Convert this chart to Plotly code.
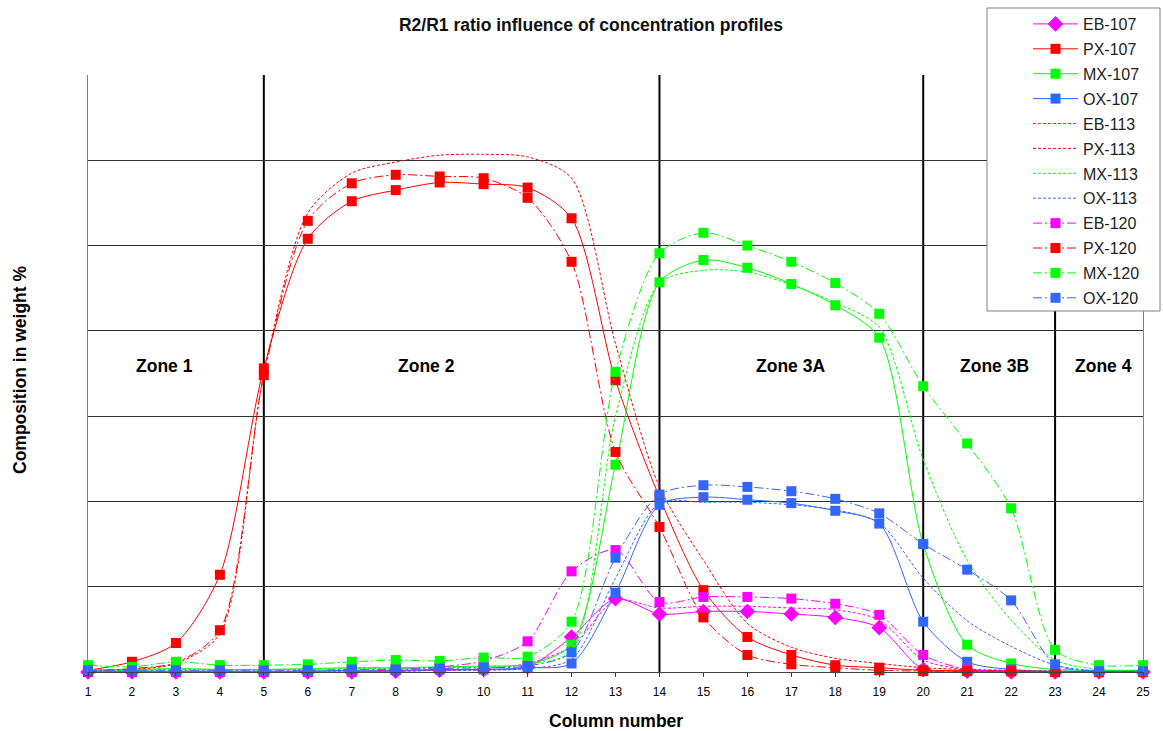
import plotly.graph_objects as go

columns = list(range(1, 26))
tick_labels = [str(c) for c in columns]

eb_107 = [0.0, 0.0, 0.0, 0.0, 0.0, 0.0, 0.0, 0.1, 0.2, 0.3, 0.6, 4.1, 8.6, 6.8, 7.1, 7.1, 6.8, 6.4, 5.2, 0.3, 0.1, 0.0, 0.0, 0.0, 0.0]
px_107 = [0.2, 1.2, 3.4, 11.4, 35.6, 50.8, 55.2, 56.5, 57.4, 57.2, 56.8, 53.2, 34.2, 20.5, 9.6, 4.1, 2.0, 0.8, 0.5, 0.2, 0.2, 0.1, 0.0, 0.0, 0.0]
mx_107 = [0.3, 0.3, 0.4, 0.3, 0.3, 0.4, 0.5, 0.5, 0.6, 0.7, 0.9, 3.2, 24.3, 45.7, 48.3, 47.4, 45.5, 43.0, 39.2, 15.0, 3.2, 1.0, 0.3, 0.2, 0.2]
ox_107 = [0.1, 0.1, 0.1, 0.1, 0.1, 0.1, 0.2, 0.2, 0.3, 0.3, 0.5, 1.0, 9.3, 19.6, 20.5, 20.2, 19.8, 18.9, 17.4, 5.9, 1.2, 0.3, 0.1, 0.1, 0.1]

eb_113 = [0.0, 0.0, 0.0, 0.0, 0.0, 0.0, 0.0, 0.1, 0.2, 0.4, 1.0, 3.0, 8.4, 7.5, 7.7, 7.7, 7.5, 7.3, 6.1, 1.4, 0.3, 0.1, 0.0, 0.0, 0.0]
px_113 = [0.1, 0.3, 1.0, 4.5, 35.0, 53.8, 58.5, 59.8, 60.6, 60.7, 60.4, 57.9, 38.5, 21.7, 13.1, 5.7, 2.9, 1.6, 1.0, 0.5, 0.3, 0.2, 0.1, 0.0, 0.0]
mx_113 = [0.2, 0.2, 0.3, 0.3, 0.3, 0.3, 0.4, 0.4, 0.5, 0.6, 0.9, 2.5, 30.0, 45.6, 47.1, 46.9, 45.4, 43.3, 40.4, 24.9, 13.1, 6.1, 1.4, 0.3, 0.2]
ox_113 = [0.0, 0.0, 0.0, 0.0, 0.0, 0.1, 0.1, 0.1, 0.2, 0.2, 0.4, 1.5, 11.0, 19.8, 19.9, 19.9, 19.6, 19.0, 17.5, 11.0, 6.0, 3.0, 0.8, 0.1, 0.0]

eb_120 = [0.0, 0.0, 0.0, 0.0, 0.0, 0.0, 0.0, 0.3, 0.6, 1.3, 3.6, 11.8, 14.3, 8.2, 8.8, 8.8, 8.6, 8.0, 6.7, 2.0, 0.3, 0.1, 0.0, 0.0, 0.0]
px_120 = [0.1, 0.4, 1.1, 4.9, 34.8, 52.9, 57.3, 58.3, 58.1, 57.9, 55.6, 48.1, 25.8, 17.0, 6.4, 2.0, 0.9, 0.5, 0.2, 0.1, 0.1, 0.1, 0.0, 0.0, 0.0]
mx_120 = [0.8, 0.6, 1.2, 0.8, 0.8, 0.9, 1.2, 1.4, 1.3, 1.7, 1.8, 5.9, 35.2, 49.1, 51.5, 50.0, 48.1, 45.6, 42.0, 33.5, 26.8, 19.2, 2.6, 0.8, 0.8]
ox_120 = [0.2, 0.2, 0.2, 0.2, 0.2, 0.2, 0.3, 0.3, 0.4, 0.5, 0.7, 2.3, 13.4, 20.8, 21.9, 21.7, 21.2, 20.3, 18.6, 15.0, 12.0, 8.4, 0.9, 0.1, 0.1]

zone_bounds = [5, 14, 20, 23]
zone_names = ["Zone 1", "Zone 2", "Zone 3A", "Zone 3B", "Zone 4"]
zone_label_x = [2.75, 8.69, 16.97, 21.62, 24.09]
zone_label_y = 35.9

MAG, RED, GRN, BLU = "#FF00FF", "#FF0000", "#00FF00", "#3366FF"

series = [
    ("EB-107", eb_107, MAG, "solid", "diamond", 12),
    ("PX-107", px_107, RED, "solid", "square", 10),
    ("MX-107", mx_107, GRN, "solid", "square", 10),
    ("OX-107", ox_107, BLU, "solid", "square", 10),
    ("EB-113", eb_113, MAG, "3px,2px", None, 0),
    ("PX-113", px_113, RED, "3px,2px", None, 0),
    ("MX-113", mx_113, GRN, "3px,2px", None, 0),
    ("OX-113", ox_113, BLU, "3px,2px", None, 0),
    ("EB-120", eb_120, MAG, "9px,3px,2px,3px", "square", 10),
    ("PX-120", px_120, RED, "9px,3px,2px,3px", "square", 10),
    ("MX-120", mx_120, GRN, "9px,3px,2px,3px", "square", 10),
    ("OX-120", ox_120, BLU, "9px,3px,2px,3px", "square", 10),
]

fig = go.Figure()
for name, vals, col, dash, sym, size in series:
    kw = dict(
        x=columns, y=vals, name=name, legendgroup=name, cliponaxis=False,
        line=dict(color=col, width=1, dash=dash, shape="spline", smoothing=0.8),
    )
    if sym:
        kw["mode"] = "lines+markers"
        kw["marker"] = dict(symbol=sym, size=size, color=col, line=dict(width=0))
    else:
        kw["mode"] = "lines"
    fig.add_trace(go.Scatter(**kw))

shapes = []
for b in zone_bounds:
    shapes.append(dict(type="line", xref="x", yref="y", x0=b, x1=b, y0=0, y1=70,
                       line=dict(color="black", width=2), layer="below"))
L, R, T, B = 88, 1143, 75, 672
def px2paper_x(p):
    return (p - L) / (R - L)
def px2paper_y(p):
    return (B - p) / (B - T)
shapes.append(dict(type="rect", xref="paper", yref="paper",
                   x0=px2paper_x(987), x1=px2paper_x(1160),
                   y0=px2paper_y(311), y1=px2paper_y(8),
                   fillcolor="white", line=dict(color="#808080", width=1), layer="above"))

annotations = []
for nm, zx in zip(zone_names, zone_label_x):
    annotations.append(dict(x=zx, y=zone_label_y, xref="x", yref="y", text="<b>%s</b>" % nm,
                            showarrow=False, xanchor="center", yanchor="middle",
                            font=dict(family="Arial", size=17.5, color="black")))
annotations.append(dict(x=px2paper_x(20), y=px2paper_y(370), xref="paper", yref="paper",
                        text="<b>Composition in weight %</b>", textangle=-90, showarrow=False,
                        xanchor="center", yanchor="middle",
                        font=dict(family="Arial", size=17.5, color="black")))
annotations.append(dict(x=px2paper_x(616), y=px2paper_y(721), xref="paper", yref="paper",
                        text="<b>Column number</b>", showarrow=False,
                        xanchor="center", yanchor="middle",
                        font=dict(family="Arial", size=17.5, color="black")))

fig.update_layout(
    width=1163, height=731,
    margin=dict(l=L, r=1163 - R, t=T, b=731 - B, autoexpand=False),
    paper_bgcolor="white", plot_bgcolor="white",
    font=dict(family="Arial", color="black"),
    title=dict(text="<b>R2/R1 ratio influence of concentration profiles</b>",
               x=px2paper_x(591), xref="paper", xanchor="center",
               y=1 - 25 / 731, yref="container", yanchor="middle",
               font=dict(family="Arial", size=17.5, color="#111")),
    xaxis=dict(range=[1, 25], tickmode="array", tickvals=columns, ticktext=tick_labels,
               showgrid=False, zeroline=False, showline=True, linecolor="#404040", linewidth=1,
               ticks="outside", ticklen=4, tickcolor="#404040", ticklabelstandoff=5,
               tickfont=dict(family="Arial", size=12, color="black")),
    yaxis=dict(range=[0, 70], dtick=10, showticklabels=False, showgrid=True,
               gridcolor="#303030", gridwidth=1, zeroline=False,
               showline=True, mirror=True, linecolor="#808080", linewidth=1, ticks=""),
    showlegend=True,
    legend=dict(x=px2paper_x(1028), xanchor="left", y=px2paper_y(7), yanchor="top",
                bgcolor="rgba(0,0,0,0)", borderwidth=0, tracegroupgap=1.1, itemwidth=45,
                font=dict(family="Arial", size=16, color="#222")),
    shapes=shapes, annotations=annotations,
)

fig.write_html("out.html")
